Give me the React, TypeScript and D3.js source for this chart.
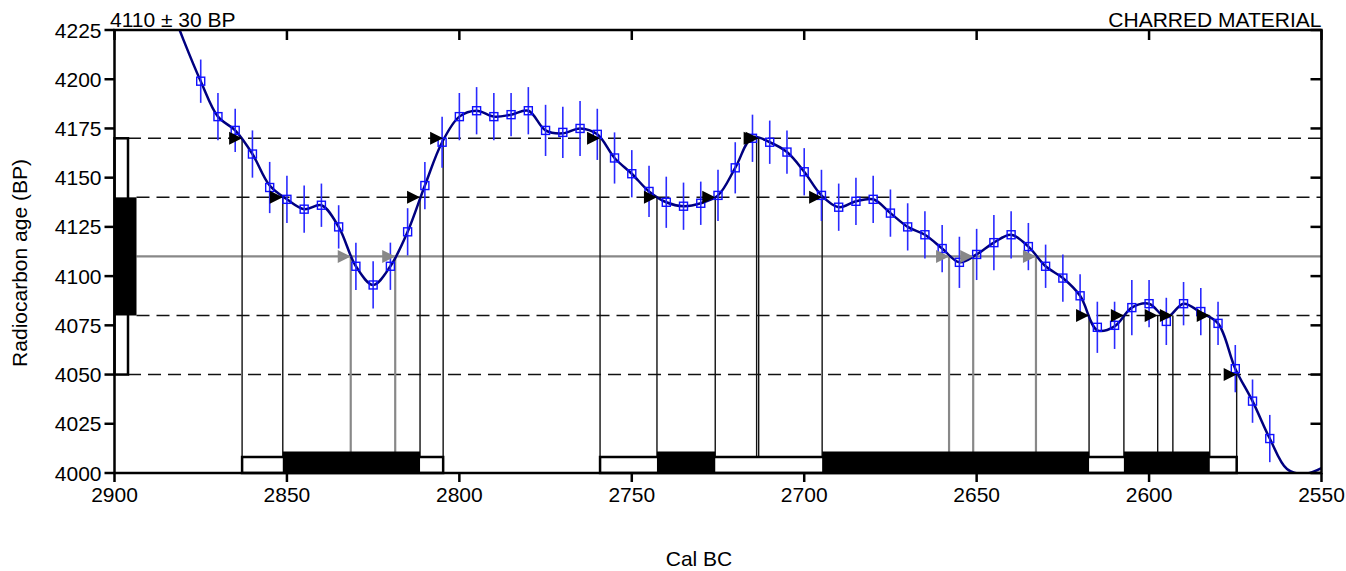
import React from "react";
import * as d3 from "d3";

// Measurement
const sampleLabel = "CHARRED MATERIAL";
const measuredAge = 4110;
const measuredError = 30;

// Calibration data points (cal BC) with radiocarbon ages and 1-sigma errors
const pointYears = [
  2875, 2870, 2865, 2860, 2855, 2850, 2845, 2840, 2835, 2830, 2825, 2820, 2815, 2810, 2805, 2800,
  2795, 2790, 2785, 2780, 2775, 2770, 2765, 2760, 2755, 2750, 2745, 2740, 2735, 2730, 2725, 2720,
  2715, 2710, 2705, 2700, 2695, 2690, 2685, 2680, 2675, 2670, 2665, 2660, 2655, 2650, 2645, 2640,
  2635, 2630, 2625, 2620, 2615, 2610, 2605, 2600, 2595, 2590, 2585, 2580, 2575, 2570, 2565,
];
const pointAges = [
  4199, 4181, 4174, 4162, 4145, 4139, 4134, 4136, 4125, 4105, 4095.5, 4105, 4122.5, 4146, 4168, 4181,
  4184, 4181, 4182, 4184, 4174, 4173, 4175, 4172, 4160, 4152, 4143, 4137.5, 4135.5, 4137, 4141, 4155,
  4170, 4168, 4163, 4153, 4141, 4135, 4138, 4139, 4132, 4125, 4121, 4114, 4107, 4111, 4117, 4121,
  4115, 4105, 4099, 4090, 4074, 4075, 4084, 4086, 4077, 4086, 4082, 4076, 4053, 4036.5, 4017.5,
];
const pointErrors = [
  11, 12, 11, 12, 13, 12, 12, 11, 11, 12, 12, 12, 12, 12, 13, 12,
  12, 12, 11, 12, 13, 13, 14, 13, 13, 12, 13, 13, 12, 11, 13, 13,
  12, 11, 11, 12, 13, 12, 12, 12, 12, 12, 12, 12, 13, 13, 14, 12,
  12, 11, 12, 11, 13, 12, 14, 12, 12, 11, 12, 11, 12, 11, 12,
];

// Smoothed calibration curve
const curveYears = [
  2885, 2880, 2875, 2870, 2865, 2860, 2855, 2850, 2845, 2840, 2835, 2830, 2825, 2820, 2815, 2810,
  2805, 2800, 2795, 2790, 2785, 2780, 2775, 2770, 2765, 2760, 2755, 2750, 2745, 2740, 2735, 2730,
  2725, 2720, 2715, 2710, 2705, 2700, 2695, 2690, 2685, 2680, 2675, 2670, 2665, 2660, 2655, 2650,
  2645, 2640, 2635, 2630, 2625, 2620, 2615, 2610, 2605, 2600, 2595, 2590, 2585, 2580, 2575, 2570,
  2565, 2560, 2555, 2550,
];
const curveAges = [
  4243, 4220, 4199, 4181, 4174, 4162, 4146, 4139, 4134, 4136, 4125, 4105, 4095.5, 4105, 4122.5, 4146,
  4168, 4181, 4184, 4181, 4182, 4184, 4174, 4172.5, 4175, 4172, 4160, 4152, 4143, 4137.5, 4135.5, 4137,
  4141, 4155, 4170.6, 4168, 4163, 4153, 4141, 4135, 4138, 4139, 4132, 4125, 4121, 4114, 4107, 4111,
  4117, 4121, 4115, 4105, 4099, 4090, 4072.5, 4074.5, 4084, 4086, 4079, 4086, 4081.5, 4076, 4053, 4036.5,
  4017.5, 4002, 3999.5, 4002.5,
];

// Intersections of the curve with the probability limits (cal BC)
const cross2SigmaHigh = [2863.0, 2804.7, 2759.2, 2713.8, 2713.2];
const cross1SigmaHigh = [2851.2, 2811.4, 2742.7, 2725.8, 2694.8];
const crossMean = [2831.5, 2818.6, 2658.0, 2651.0, 2632.8];
const cross1SigmaLow = [2617.4, 2607.3, 2597.5, 2593.1, 2582.4];
const cross2SigmaLow = [2574.6];

// Calibrated ranges (cal BC)
const sigma2From = [2863.0, 2759.2];
const sigma2To = [2804.7, 2574.6];
const sigma1From = [2851.2, 2742.7, 2694.8, 2607.3];
const sigma1To = [2811.4, 2725.8, 2617.4, 2582.4];

// Axis ticks
const xTicks = [2900, 2850, 2800, 2750, 2700, 2650, 2600, 2550];
const yTicks = [4000, 4025, 4050, 4075, 4100, 4125, 4150, 4175, 4200, 4225];

const W = 1346;
const H = 571;
const FONT = "'Liberation Sans', Arial, Helvetica, sans-serif";

export default function App() {
  const x = d3.scaleLinear().domain([2900, 2550]).range([114.5, 1321.5]);
  const y = d3.scaleLinear().domain([4000, 4225]).range([473, 30]);
  const [x0, x1] = x.range();
  const [yb, yt] = y.range();

  const s1Lo = measuredAge - measuredError;
  const s1Hi = measuredAge + measuredError;
  const s2Lo = measuredAge - 2 * measuredError;
  const s2Hi = measuredAge + 2 * measuredError;

  const box2Right = x0 + 13.5;
  const box1Right = x0 + 22;

  const curvePts: [number, number][] = curveYears.map((yr, i) => [x(yr), y(curveAges[i])]);
  const curvePath = d3.line().curve(d3.curveCatmullRom.alpha(0.5))(curvePts) || "";

  const arrow = (cx: number, cy: number) =>
    `M${cx - 13},${cy - 6.5}L${cx},${cy}L${cx - 13},${cy + 6.5}Z`;

  const blackLevels: [number, number[]][] = [
    [s2Hi, cross2SigmaHigh],
    [s1Hi, cross1SigmaHigh],
    [s1Lo, cross1SigmaLow],
    [s2Lo, cross2SigmaLow],
  ];

  const hollowTop = yb - 16;
  const filledTop = yb - 21.5;

  return (
    <svg
      width={W}
      height={H}
      style={{ position: "absolute", left: 0, top: 0, background: "#fff" }}
      fontFamily={FONT}
    >
      <defs>
        <clipPath id="plot-clip">
          <rect x={x0} y={yt} width={x1 - x0} height={yb - yt} />
        </clipPath>
      </defs>

      {/* dashed probability limits */}
      {blackLevels.map(([lv]) => (
        <line
          key={"dl" + lv}
          x1={lv === s1Hi || lv === s1Lo ? box1Right : box2Right}
          x2={x1}
          y1={y(lv)}
          y2={y(lv)}
          stroke="#111"
          strokeWidth={1.5}
          strokeDasharray="13,7"
        />
      ))}
      {/* mean age line */}
      <line x1={box1Right} x2={x1} y1={y(measuredAge)} y2={y(measuredAge)} stroke="#888" strokeWidth={2.2} />

      {/* drop lines from intersections */}
      {blackLevels.map(([lv, xs]) =>
        xs.map((c, i) => (
          <line
            key={`vl${lv}-${i}`}
            x1={x(c)}
            x2={x(c)}
            y1={y(lv)}
            y2={yb}
            stroke="#111"
            strokeWidth={1.4}
          />
        ))
      )}
      {crossMean.map((c, i) => (
        <line key={"vm" + i} x1={x(c)} x2={x(c)} y1={y(measuredAge)} y2={yb} stroke="#888" strokeWidth={2.2} />
      ))}

      {/* calibration curve */}
      <path d={curvePath} fill="none" stroke="#000080" strokeWidth={2.5} clipPath="url(#plot-clip)" />

      {/* data points with error bars */}
      {pointYears.map((yr, i) => (
        <line
          key={"eb" + yr}
          x1={x(yr)}
          x2={x(yr)}
          y1={y(pointAges[i] - pointErrors[i])}
          y2={y(pointAges[i] + pointErrors[i])}
          stroke="#2a2aff"
          strokeWidth={1.6}
        />
      ))}
      {pointYears.map((yr, i) => (
        <rect
          key={"pt" + yr}
          x={x(yr) - 4}
          y={y(pointAges[i]) - 4}
          width={8}
          height={8}
          fill="none"
          stroke="#1010ff"
          strokeWidth={1.4}
        />
      ))}

      {/* arrows */}
      {blackLevels.map(([lv, xs]) =>
        xs.map((c, i) => <path key={`ar${lv}-${i}`} d={arrow(x(c), y(lv))} fill="#000" />)
      )}
      {crossMean.map((c, i) => (
        <path key={"am" + i} d={arrow(x(c), y(measuredAge))} fill="#888" />
      ))}

      {/* calibrated range bars */}
      {sigma2From.map((f, i) => (
        <rect
          key={"s2" + i}
          x={x(f)}
          y={hollowTop}
          width={x(sigma2To[i]) - x(f)}
          height={yb - hollowTop}
          fill="#fff"
          stroke="#000"
          strokeWidth={2.5}
        />
      ))}
      {sigma1From.map((f, i) => (
        <rect
          key={"s1" + i}
          x={x(f)}
          y={filledTop}
          width={x(sigma1To[i]) - x(f)}
          height={yb - filledTop}
          fill="#000"
        />
      ))}

      {/* measured age boxes */}
      <rect x={x0} y={y(s2Hi)} width={box2Right - x0} height={y(s2Lo) - y(s2Hi)} fill="#fff" stroke="#000" strokeWidth={2.5} />
      <rect x={x0} y={y(s1Hi)} width={box1Right - x0} height={y(s1Lo) - y(s1Hi)} fill="#000" />

      {/* frame */}
      <rect x={x0} y={yt} width={x1 - x0} height={yb - yt} fill="none" stroke="#000" strokeWidth={2.5} />

      {/* y ticks */}
      {yTicks.map((t) => (
        <g key={"yt" + t}>
          <line x1={x0 - 10} x2={x0} y1={y(t)} y2={y(t)} stroke="#000" strokeWidth={2.5} />
          <line x1={x1 - 11} x2={x1} y1={y(t)} y2={y(t)} stroke="#000" strokeWidth={2.5} />
          <text x={x0 - 13} y={y(t)} dy="0.36em" textAnchor="end" fontSize={21} fill="#000">
            {t}
          </text>
        </g>
      ))}
      {/* x ticks */}
      {xTicks.map((t) => (
        <g key={"xt" + t}>
          <line x1={x(t)} x2={x(t)} y1={yb} y2={yb + 9} stroke="#000" strokeWidth={2.5} />
          <line x1={x(t)} x2={x(t)} y1={yt} y2={yt + 10} stroke="#000" strokeWidth={2.5} />
          <text x={x(t)} y={501.5} textAnchor="middle" fontSize={21} fill="#000">
            {t}
          </text>
        </g>
      ))}

      {/* titles */}
      <text x={110} y={27} fontSize={21} fill="#000">
        {`${measuredAge} ± ${measuredError} BP`}
      </text>
      <text x={x1} y={27} textAnchor="end" fontSize={21} fill="#000">
        {sampleLabel}
      </text>
      <text transform="translate(27,263) rotate(-90)" textAnchor="middle" fontSize={21} fill="#000">
        Radiocarbon age (BP)
      </text>
      <text x={699} y={566} textAnchor="middle" fontSize={21} fill="#000">
        Cal BC
      </text>
    </svg>
  );
}
